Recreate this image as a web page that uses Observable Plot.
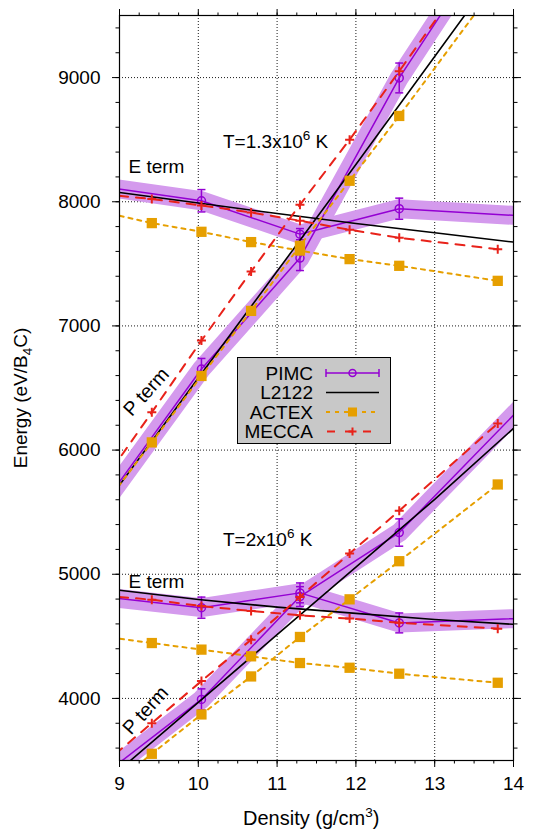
<!DOCTYPE html>
<html><head><meta charset="utf-8">
<script src="https://cdn.jsdelivr.net/npm/d3@7"></script>
<script src="https://cdn.jsdelivr.net/npm/@observablehq/plot@0.6"></script>
<style>body{margin:0;background:#fff} #chart{width:534px;height:830px}</style>
</head><body><div id="chart"></div><script>
// ---- data ----
const density = [8.78, 9.41, 10.04, 10.67, 11.29, 11.92, 12.55, 13.80];
const pimcDensity = [8.78, 10.04, 11.29, 12.55, 15.06];
const l2122Density = [9, 10, 11, 12, 13, 14];

const pimcE13 = [8122, 8008, 7739, 7944, 7851];
const pimcE13Err = [0, 90, 45, 85, 0];
const pimcP13 = [5553, 6653, 7546, 8997, 11424];
const pimcP13Err = [0, 85, 100, 120, 0];
const pimcE20 = [4820, 4731, 4850, 4608, 4668];
const pimcE20Err = [0, 85, 80, 80, 0];
const pimcP20 = [3375, 3992, 4820, 5336, 6973];
const pimcP20Err = [0, 85, 80, 110, 0];

const l2122E13 = [8075, 7990, 7905, 7825, 7750, 7675];
const l2122P13 = [5718, 6580, 7440, 8300, 9170, 10040];
const l2122E20 = [4871, 4797, 4735, 4685, 4635, 4597];
const l2122P20 = [3424, 3968, 4513, 5058, 5603, 6175];

const actexE13 = [7919, 7828, 7758, 7675, 7607, 7538, 7484, 7363];
const actexP13 = [5534, 6062, 6597, 7121, 7645, 8169, 8691, 9760];
const actexE20 = [4500, 4446, 4393, 4339, 4285, 4247, 4199, 4126];
const actexP20 = [3236, 3554, 3871, 4177, 4495, 4798, 5105, 5723];

const meccaE13 = [8062, 8022, 7970, 7914, 7847, 7774, 7710, 7618];
const meccaP13 = [5734, 6304, 6882, 7438, 7976, 8500, 9051, 10170];
const meccaE20 = [4829, 4795, 4744, 4704, 4669, 4643, 4610, 4562];
const meccaP20 = [3463, 3801, 4140, 4473, 4817, 5167, 5511, 6215];

const xTicks = [9, 10, 11, 12, 13, 14];
const yTicks = [4000, 5000, 6000, 7000, 8000, 9000];
const xMinor = d3.range(9, 14.001, 0.25);
const yMinor = d3.range(3600, 9500, 200);

const legendLabels = ["PIMC", "L2122", "ACTEX", "MECCA"];
const termLabels = ["E term", "E term"];
const termX = [9.114, 9.114];
const termY = [8282, 4935];
const pLabels = ["P term", "P term"];
const pX = [9.34, 9.33];
const pY = [6468, 3903];

// ---- colors ----
const PURPLE = "#9400d3", BAND = "#d49aed", ORANGE = "#e69f00", RED = "#e8221a";

const mk = (xs, ys, curve, err) => xs.map((x, i) => ({x, y: ys[i], curve, err: err ? err[i] : 0}));
const pimc = [...mk(pimcDensity, pimcE13, "E13", pimcE13Err), ...mk(pimcDensity, pimcP13, "P13", pimcP13Err),
              ...mk(pimcDensity, pimcE20, "E20", pimcE20Err), ...mk(pimcDensity, pimcP20, "P20", pimcP20Err)];
const l2122 = [...mk(l2122Density, l2122E13, "E13"), ...mk(l2122Density, l2122P13, "P13"),
               ...mk(l2122Density, l2122E20, "E20"), ...mk(l2122Density, l2122P20, "P20")];
const actex = [...mk(density, actexE13, "E13"), ...mk(density, actexP13, "P13"),
               ...mk(density, actexE20, "E20"), ...mk(density, actexP20, "P20")];
const mecca = [...mk(density, meccaE13, "E13"), ...mk(density, meccaP13, "P13"),
               ...mk(density, meccaE20, "E20"), ...mk(density, meccaP20, "P20")];
const pimcErr = pimc.filter(d => d.err > 0 && d.x >= 9 && d.x <= 14);

const capSymbol = {draw(ctx, size) { const r = Math.sqrt(size / Math.PI); ctx.moveTo(-r, 0); ctx.lineTo(r, 0); }};
const plusSymbol = {draw(ctx, size) { const r = Math.sqrt(size / Math.PI); ctx.moveTo(-r, 0); ctx.lineTo(r, 0); ctx.moveTo(0, -r); ctx.lineTo(0, r); }};
const noText = () => "";
const FONT = "'Liberation Sans', Arial, Helvetica, sans-serif";

const plot = Plot.plot({
  width: 534, height: 830,
  marginLeft: 119, marginRight: 21, marginTop: 15, marginBottom: 70,
  style: {fontFamily: FONT, fontSize: "19px", background: "white", color: "black"},
  x: {domain: [9, 14]},
  y: {domain: [3500, 9500]},
  marks: [
    Plot.gridX(xTicks, {stroke: "#000", strokeOpacity: 0.9, strokeDasharray: "1,2", strokeWidth: 1}),
    Plot.gridY(yTicks, {stroke: "#000", strokeOpacity: 0.9, strokeDasharray: "1,2", strokeWidth: 1}),
    Plot.line(pimc, {x: "x", y: "y", z: "curve", stroke: BAND, strokeWidth: 19, strokeLinejoin: "round", clip: true}),
    Plot.line(pimc, {x: "x", y: "y", z: "curve", stroke: PURPLE, strokeWidth: 1.5, clip: true}),
    Plot.ruleX(pimcErr, {x: "x", y1: d => d.y - d.err, y2: d => d.y + d.err, stroke: PURPLE, strokeWidth: 1.5, clip: true}),
    Plot.dot(pimcErr, {x: "x", y: d => d.y - d.err, symbol: capSymbol, r: 4, stroke: PURPLE, strokeWidth: 1.5, clip: true}),
    Plot.dot(pimcErr, {x: "x", y: d => d.y + d.err, symbol: capSymbol, r: 4, stroke: PURPLE, strokeWidth: 1.5, clip: true}),
    Plot.dot(pimc, {x: "x", y: "y", r: 4, stroke: PURPLE, strokeWidth: 1.5, fill: "none", clip: true}),
    Plot.line(l2122, {x: "x", y: "y", z: "curve", stroke: "#000", strokeWidth: 1.6, clip: true}),
    Plot.line(actex, {x: "x", y: "y", z: "curve", stroke: ORANGE, strokeWidth: 2, strokeDasharray: "4,5", clip: true}),
    Plot.dot(actex, {x: "x", y: "y", symbol: "square", r: 5.8, fill: ORANGE, stroke: "none", clip: true}),
    Plot.line(mecca, {x: "x", y: "y", z: "curve", stroke: RED, strokeWidth: 2, strokeDasharray: "9,8", clip: true}),
    Plot.dot(mecca, {x: "x", y: "y", symbol: plusSymbol, r: 4.5, stroke: RED, strokeWidth: 2, fill: "none", clip: true}),
    Plot.text(termLabels, {x: (d, i) => termX[i], y: (d, i) => termY[i], text: d => d, textAnchor: "start", fontSize: 19, fill: "#000"}),
    Plot.text(pLabels, {x: (d, i) => pX[i], y: (d, i) => pY[i], text: d => d, textAnchor: "middle", rotate: -48, fontSize: 19.5, fill: "#000"}),
    Plot.frame({stroke: "#000", strokeWidth: 1.2}),
    Plot.axisX(xTicks, {anchor: "bottom", tickSize: 7, tickPadding: 9, fontSize: 19, label: null}),
    Plot.axisX(xTicks, {anchor: "top", tickSize: 7, tickFormat: noText, label: null}),
    Plot.axisX(xMinor, {anchor: "bottom", tickSize: 3.5, tickFormat: noText, label: null}),
    Plot.axisX(xMinor, {anchor: "top", tickSize: 3.5, tickFormat: noText, label: null}),
    Plot.axisY(yTicks, {anchor: "left", tickSize: 7, tickPadding: 12, fontSize: 19, tickFormat: d3.format("d"), label: null}),
    Plot.axisY(yTicks, {anchor: "right", tickSize: 7, tickFormat: noText, label: null}),
    Plot.axisY(yMinor, {anchor: "left", tickSize: 3.5, tickFormat: noText, label: null}),
    Plot.axisY(yMinor, {anchor: "right", tickSize: 3.5, tickFormat: noText, label: null})
  ]
});
document.getElementById("chart").appendChild(plot);

// ---- rich text (superscripts / subscripts) ----
const svg = d3.select(plot);
const sx = plot.scale("x"), sy = plot.scale("y");
function rich(x, y, parts, transform, anchor, size) {
  size = size || 19;
  const t = svg.append("text").attr("x", x).attr("y", y)
    .attr("font-family", FONT).attr("font-size", size).attr("fill", "#000")
    .attr("text-anchor", anchor || "start");
  if (transform) t.attr("transform", transform).attr("x", 0).attr("y", 0);
  let shift = 0;
  for (const p of parts) {
    const ts = t.append("tspan").text(p.t);
    const target = p.sup ? -8 : p.sub ? 5 : 0;
    if (target !== shift) { ts.attr("dy", target - shift); shift = target; }
    ts.attr("font-size", (p.sup || p.sub) ? 13.5 : size);
  }
  return t;
}
const tempLabels = [["1.3", 10.32, 8484], ["2", 10.32, 5282]];
for (const [v, tx, ty] of tempLabels) {
  rich(sx.apply(tx), sy.apply(ty) + 7, [{t: "T=" + v + "x10"}, {t: "6", sup: true}, {t: " K"}]);
}
rich(243, 825, [{t: "Density (g/cm"}, {t: "3", sup: true}, {t: ")"}], null, "start", 20);
rich(0, 0, [{t: "Energy (eV/B"}, {t: "4", sub: true}, {t: "C)"}], "translate(27,398) rotate(-90)", "middle");

// ---- legend ----
const lg = svg.append("g");
lg.append("rect").attr("x", 237.5).attr("y", 357.5).attr("width", 153).attr("height", 86)
  .attr("fill", "#c8c8c8").attr("stroke", "#000").attr("stroke-width", 1);
const rowY = [373, 392.5, 412, 431.5];
const x0 = 326, x1 = 379, xm = (x0 + x1) / 2;
legendLabels.forEach((lab, i) => {
  const y = rowY[i];
  lg.append("text").attr("x", 313).attr("y", y).attr("dy", "0.35em").attr("text-anchor", "end")
    .attr("font-family", FONT).attr("font-size", 19).attr("fill", "#000").text(lab);
  const ln = lg.append("line").attr("x1", x0).attr("x2", x1).attr("y1", y).attr("y2", y);
  if (i === 0) {
    ln.attr("stroke", PURPLE).attr("stroke-width", 1.5);
    for (const cx of [x0, x1]) lg.append("line").attr("x1", cx).attr("x2", cx).attr("y1", y - 4).attr("y2", y + 4).attr("stroke", PURPLE).attr("stroke-width", 1.5);
    lg.append("circle").attr("cx", xm).attr("cy", y).attr("r", 3.5).attr("fill", "none").attr("stroke", PURPLE).attr("stroke-width", 1.5);
  } else if (i === 1) {
    ln.attr("stroke", "#000").attr("stroke-width", 1.6);
  } else if (i === 2) {
    ln.attr("stroke", ORANGE).attr("stroke-width", 2).attr("stroke-dasharray", "4,5");
    lg.append("rect").attr("x", xm - 4.5).attr("y", y - 4.5).attr("width", 9).attr("height", 9).attr("fill", ORANGE);
  } else {
    ln.attr("x1", x0 + 1).attr("stroke", RED).attr("stroke-width", 2).attr("stroke-dasharray", "8,10");
    lg.append("path").attr("d", `M${xm - 4},${y}H${xm + 4}M${xm},${y - 4}V${y + 4}`).attr("stroke", RED).attr("stroke-width", 2);
  }
});
</script></body></html>
